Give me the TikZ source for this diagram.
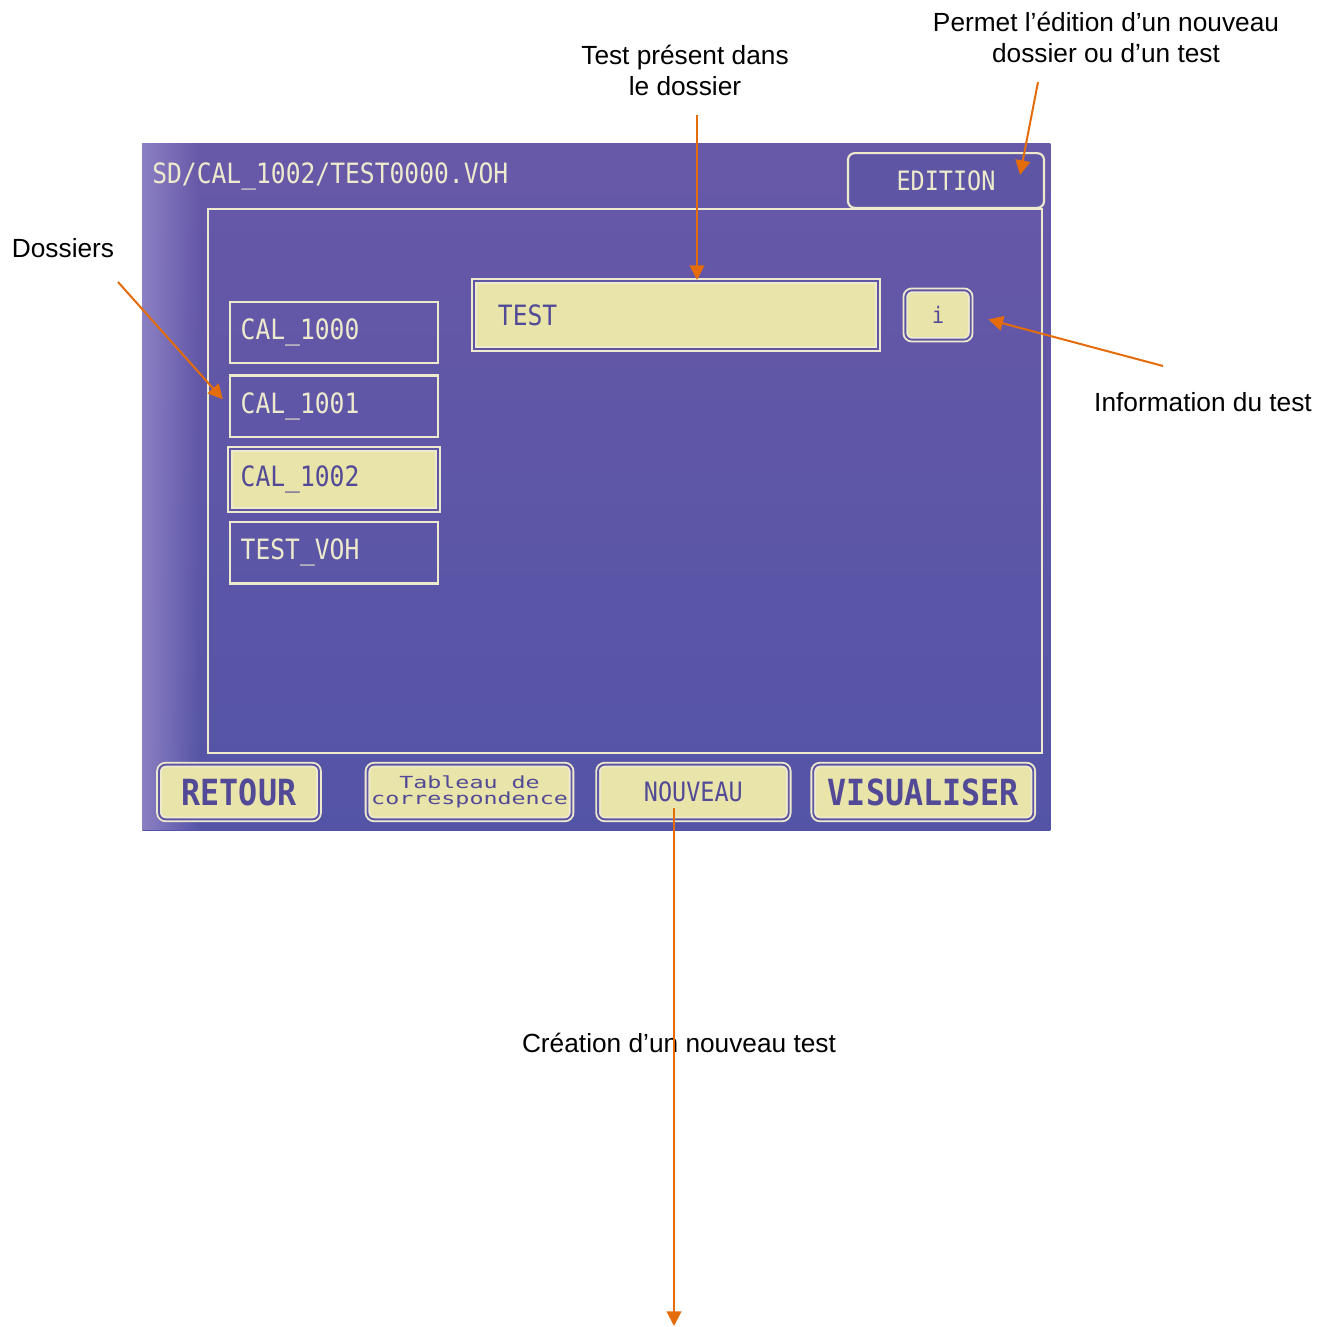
\documentclass[tikz,border=0pt]{standalone}
\usepackage{fontspec}
\setmainfont{Liberation Sans}
\newfontfamily\lcd[FakeStretch=0.88]{DejaVu Sans Mono}
\newfontfamily\lcdwide[FakeStretch=1.4]{DejaVu Sans Mono}
\usetikzlibrary{arrows.meta,positioning,fadings}

\definecolor{scrpurple}{RGB}{94,86,164}
\definecolor{scrtop}{RGB}{104,88,168}
\definecolor{scrbottom}{RGB}{84,84,166}
\definecolor{scrlight}{RGB}{140,128,196}
\definecolor{creamfill}{RGB}{232,228,170}
\definecolor{creamline}{RGB}{238,234,206}
\definecolor{btntext}{RGB}{82,74,150}
\definecolor{arroworange}{RGB}{228,108,10}

\begin{document}
\begin{tikzpicture}[
    x=0.75pt, y=-0.75pt,
    note/.style={font=\fontsize{19.7}{23.3}\selectfont, align=center, inner sep=0pt},
    screentext/.style={text=creamline, font=\lcd\fontsize{21}{24}\selectfont},
    folder/.style={draw=creamline, line width=1.6pt, minimum height=46pt, text width=140pt, inner xsep=8pt, align=left, screentext},
    selected/.style={fill=creamfill, draw=creamline, double=scrpurple, double distance=1.4pt, line width=1.4pt, text=btntext},
    button/.style={selected, rounded corners=5pt, inner sep=0pt, minimum height=41pt, align=center, font=\lcd\fontsize{20}{24}\selectfont},
    arrow/.style={draw=arroworange, line width=1.5pt, -{Triangle[length=11pt,width=11pt]}}
]
\useasboundingbox (0,0) rectangle (1333,1326);

% Screen
\node[anchor=north west, inner sep=0pt, minimum width=681pt, minimum height=515.25pt, top color=scrtop, bottom color=scrbottom] (screen) at (142,143) {};
\fill[scrlight, path fading=east] (142,143) rectangle (200,830);
\node[screentext, anchor=west, inner sep=0pt] (path) at (152,176) {SD/CAL\_1002/TEST0000.VOH};
\node[anchor=north west, draw=creamline, line width=1.6pt, minimum width=625.5pt, minimum height=408pt] (panel) at (207,208) {};
\node[draw=creamline, line width=1.6pt, fill=scrpurple, rounded corners=5pt, minimum width=147pt, minimum height=41pt, screentext, font=\lcd\fontsize{20}{24}\selectfont] (edition) at (946,180.5) {EDITION};

% Folders
\node[folder, anchor=north west] (cal1000) at (229,301) {CAL\_1000};
\node[folder, below=7.5pt of cal1000] (cal1001) {CAL\_1001};
\node[folder, selected, below=7.5pt of cal1001] (cal1002) {CAL\_1002};
\node[folder, below=7.5pt of cal1002] (testvoh) {TEST\_VOH};

% Test of the folder
\node[selected, anchor=north west, minimum width=303pt, minimum height=51pt, text width=267pt, inner xsep=18pt, align=left, font=\lcd\fontsize{21}{24}\selectfont] (test) at (473,280) {TEST};
\node[button, minimum width=49pt, minimum height=37pt, font=\lcd\fontsize{17}{20}\selectfont] (info) at (938,315) {i};

% Buttons
\node[button, minimum width=120pt, font=\lcd\bfseries\fontsize{27}{30}\selectfont] (retour) at (239,792) {RETOUR};
\node[button, right=35pt of retour, minimum width=153pt, font=\lcdwide\fontsize{12.5}{12}\selectfont] (tableau) {Tableau de\\correspondence};
\node[button, right=18.5pt of tableau, minimum width=143pt] (nouveau) {NOUVEAU};
\node[button, right=17pt of nouveau, minimum width=165pt, font=\lcd\bfseries\fontsize{27}{30}\selectfont] (visualiser) {VISUALISER};

% Labels
\node[note] (permet) at (1106,37.5) {Permet l’édition d’un nouveau\\dossier ou d’un test};
\node[note] (present) at (685,70.5) {Test présent dans\\le dossier};
\node[note] (dossiers) at (63,248) {Dossiers};
\node[note] (information) at (1203,402) {Information du test};
\node[note] (creation) at (679,1043) {Création d’un nouveau test};

% Arrows
\coordinate (editTail) at (1038,82);
\coordinate (editTip) at (1020,175);
\coordinate (testTail) at (697,115);
\coordinate (dosTail) at (118,282);
\coordinate (infoTail) at (1163,366);
\coordinate (newTail) at (674,808);
\coordinate (newTip) at (674,1326);
\draw[arrow] (editTail) -- (editTip);
\draw[arrow] (testTail) -- (testTail |- test.north);
\draw[arrow, shorten >=7pt] (dosTail) -- (cal1001.west);
\draw[arrow, shorten >=13pt] (infoTail) -- (info.east);
\draw[arrow] (newTail) -- (newTip);
\end{tikzpicture}
\end{document}
